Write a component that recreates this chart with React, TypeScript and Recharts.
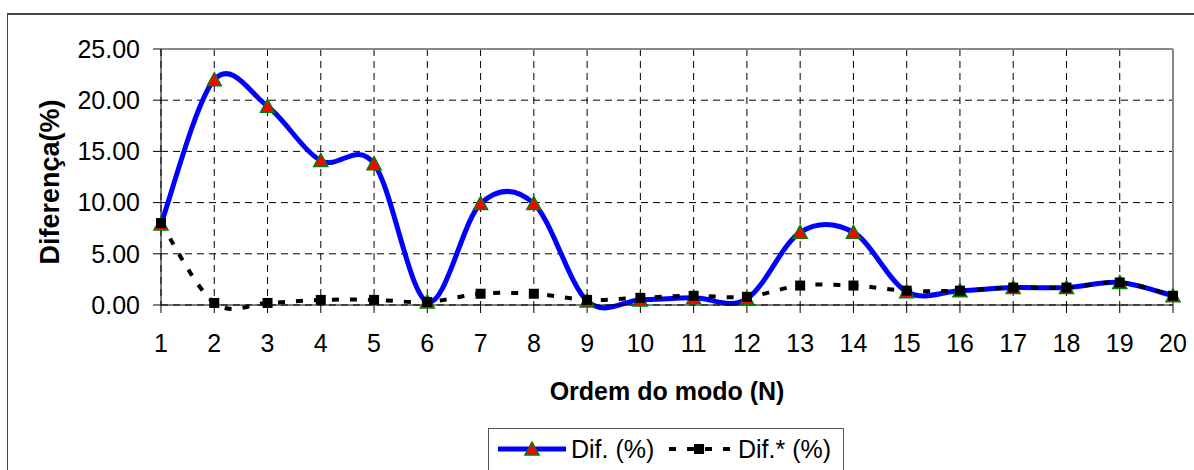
import React from "react";
import { LineChart, Line, XAxis, YAxis, CartesianGrid, ReferenceLine } from "recharts";

const modes = [1, 2, 3, 4, 5, 6, 7, 8, 9, 10, 11, 12, 13, 14, 15, 16, 17, 18, 19, 20];
const dif = [7.9, 22.0, 19.4, 14.1, 13.8, 0.3, 9.9, 9.9, 0.4, 0.5, 0.7, 0.6, 7.1, 7.1, 1.3, 1.4, 1.7, 1.7, 2.2, 0.9];
const difStar = [8.0, 0.2, 0.2, 0.5, 0.5, 0.3, 1.1, 1.1, 0.5, 0.7, 0.9, 0.8, 1.9, 1.9, 1.4, 1.4, 1.7, 1.7, 2.2, 0.9];
const yTicks = [0, 5, 10, 15, 20, 25];

const data = modes.map((n, i) => ({ n, dif: dif[i], difStar: difStar[i] }));

const FONT = "'Liberation Sans', Arial, sans-serif";

// excel-like smoothed line (catmull-rom as cubic bezier)
const excelCurve: any = (context: any) => {
     let pts: number[][] = [];
     return {
          areaStart() {},
          areaEnd() {},
          lineStart() {
               pts = [];
          },
          point(x: number, y: number) {
               pts.push([+x, +y]);
          },
          lineEnd() {
               if (!pts.length) return;
               context.moveTo(pts[0][0], pts[0][1]);
               for (let i = 0; i < pts.length - 1; i++) {
                    const p0 = pts[Math.max(i - 1, 0)];
                    const p1 = pts[i];
                    const p2 = pts[i + 1];
                    const p3 = pts[Math.min(i + 2, pts.length - 1)];
                    context.bezierCurveTo(
                         p1[0] + (p2[0] - p0[0]) / 6,
                         p1[1] + (p2[1] - p0[1]) / 6,
                         p2[0] - (p3[0] - p1[0]) / 6,
                         p2[1] - (p3[1] - p1[1]) / 6,
                         p2[0],
                         p2[1]
                    );
               }
          },
     };
};

const Triangle = (props: any) => {
     const { cx, cy } = props;
     if (cx == null || cy == null) return null;
     return (
          <polygon
               points={`${cx},${cy - 7} ${cx + 7},${cy + 6} ${cx - 7},${cy + 6}`}
               fill="#ff0000"
               stroke="#008000"
               strokeWidth={1.5}
          />
     );
};

const Square = (props: any) => {
     const { cx, cy } = props;
     if (cx == null || cy == null) return null;
     return <rect x={cx - 5} y={cy - 5} width={10} height={10} fill="#000" />;
};

function LegendBox() {
     return (
          <div
               style={{
                    position: "absolute",
                    left: 488,
                    top: 428,
                    width: 356,
                    height: 44,
                    border: "1px solid #555",
                    background: "#fff",
                    boxSizing: "border-box",
               }}
          >
               <svg width={356} height={44} style={{ position: "absolute", left: 0, top: 0 }}>
                    <line x1={9} y1={20} x2={77} y2={20} stroke="#0000ff" strokeWidth={5} />
                    <polygon points="43,13 50,26 36,26" fill="#ff0000" stroke="#008000" strokeWidth={1.5} />
                    <line x1={178} y1={20} x2={244} y2={20} stroke="#000" strokeWidth={4} strokeDasharray="7 11" strokeDashoffset={-2} />
                    <rect x={205} y={15} width={10} height={10} fill="#000" />
                    <text x={82} y={29} fontSize={25} fontFamily={FONT}>Dif. (%)</text>
                    <text x={249} y={29} fontSize={25} fontFamily={FONT}>Dif.* (%)</text>
               </svg>
          </div>
     );
}

export default function App() {
     return (
          <div style={{ position: "absolute", left: 0, top: 0, width: 1194, height: 470, background: "#fff", overflow: "hidden" }}>
               <div
                    style={{
                         position: "absolute",
                         left: 7,
                         top: 13,
                         width: 1200,
                         height: 470,
                         borderTop: "2px solid #444",
                         borderLeft: "1px solid #444",
                    }}
               />
               <div style={{ position: "absolute", left: 0, top: 0 }}>
                    <LineChart width={1194} height={470} data={data} margin={{ top: 49, right: 21, left: 20, bottom: 65 }}>
                         <CartesianGrid stroke="#000" strokeDasharray="7 5" strokeWidth={1} />
                         <XAxis
                              dataKey="n"
                              type="number"
                              domain={[1, 20]}
                              ticks={modes}
                              interval={0}
                              height={100}
                              stroke="#000"
                              tickSize={8}
                              tickMargin={21}
                              tick={{ fill: "#000", fontSize: 25, fontFamily: FONT }}
                              label={{
                                   value: "Ordem do modo (N)",
                                   position: "insideBottom",
                                   offset: 5,
                                   style: { fontSize: 25, fontWeight: "bold", fontFamily: FONT, fill: "#000" },
                              }}
                         />
                         <YAxis
                              type="number"
                              domain={[0, 25]}
                              ticks={yTicks}
                              width={141}
                              stroke="#000"
                              tickSize={8}
                              tickMargin={13}
                              tickFormatter={(v) => Number(v).toFixed(2)}
                              tick={{ fill: "#000", fontSize: 25, fontFamily: FONT }}
                              label={{
                                   value: "Diferença(%)",
                                   angle: -90,
                                   position: "insideLeft",
                                   offset: 29,
                                   dy: 5,
                                   style: { fontSize: 27, fontWeight: "bold", fontFamily: FONT, fill: "#000", textAnchor: "middle" },
                              }}
                         />
                         <ReferenceLine y={25} stroke="#888" strokeWidth={2} />
                         <ReferenceLine x={20} stroke="#888" strokeWidth={2} />
                         <Line
                              dataKey="dif"
                              type={excelCurve}
                              stroke="#0000ff"
                              strokeWidth={5}
                              dot={<Triangle />}
                              activeDot={false}
                              isAnimationActive={false}
                         />
                         <Line
                              dataKey="difStar"
                              type={excelCurve}
                              stroke="#000"
                              strokeWidth={4}
                              strokeDasharray="7 11"
                              dot={<Square />}
                              activeDot={false}
                              isAnimationActive={false}
                         />
                    </LineChart>
               </div>
               <LegendBox />
          </div>
     );
}
